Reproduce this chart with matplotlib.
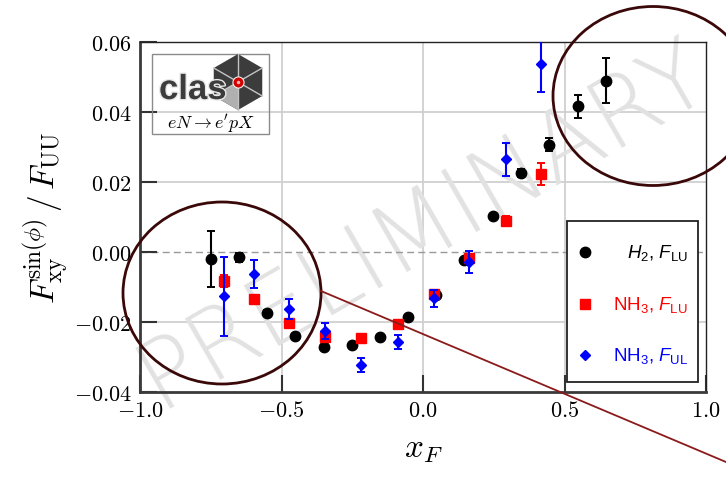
import numpy as np
import matplotlib
matplotlib.use("Agg")
import matplotlib.pyplot as plt
import matplotlib.patheffects as pe
from matplotlib.patches import Ellipse, Rectangle, Polygon
from matplotlib.lines import Line2D
from matplotlib.ticker import FuncFormatter

plt.rcParams['mathtext.fontset'] = 'cm'
plt.rcParams['mathtext.rm'] = 'Liberation Sans'
plt.rcParams['mathtext.it'] = 'Liberation Sans:italic'
plt.rcParams['mathtext.bf'] = 'Liberation Sans:bold'

# H2, F_LU
h2_x = [-0.750, -0.651, -0.552, -0.451, -0.351, -0.251, -0.151, -0.052,
        0.047, 0.145, 0.247, 0.347, 0.446, 0.548, 0.647]
h2_y = [-0.0020, -0.0015, -0.0173, -0.0240, -0.0271, -0.0266, -0.0243, -0.0186,
        -0.0122, -0.0022, 0.0103, 0.0225, 0.0307, 0.0416, 0.0490]
h2_err = [0.0079, 0.0013, 0.0006, 0.0006, 0.0006, 0.0006, 0.0006, 0.0006,
          0.0008, 0.0006, 0.0006, 0.0012, 0.0019, 0.0032, 0.0064]

# NH3, F_LU
nh3_x = [-0.703, -0.598, -0.472, -0.345, -0.218, -0.089, 0.038, 0.164, 0.293, 0.417]
nh3_lu_y = [-0.0083, -0.0133, -0.0204, -0.0242, -0.0245, -0.0207, -0.0119, -0.0017,
            0.0089, 0.0222]
nh3_lu_err = [0.0017, 0.0006, 0.0006, 0.0006, 0.0006, 0.0006, 0.0008, 0.0010,
              0.0013, 0.0031]

# NH3, F_UL
nh3_ul_y = [-0.0127, -0.0063, -0.0162, -0.0226, -0.0324, -0.0258, -0.0132, -0.0028,
            0.0265, 0.0538]
nh3_ul_err = [0.0114, 0.0041, 0.0028, 0.0022, 0.0020, 0.0020, 0.0024, 0.0032,
              0.0047, 0.0082]

legend_labels = [r'$H_2$, $F_{\rm LU}$', r'NH$_3$, $F_{\rm LU}$', r'NH$_3$, $F_{\rm UL}$']

W, H = 726, 485
fig = plt.figure(figsize=(W / 100, H / 100), dpi=100)
ax = fig.add_axes([140 / W, 92 / H, 566 / W, 350 / H])

ax.set_xlim(-1.0, 1.0)
ax.set_ylim(-0.04, 0.06)
ax.set_xticks([-1.0, -0.5, 0.0, 0.5, 1.0])
ax.set_yticks([-0.04, -0.02, 0.0, 0.02, 0.04, 0.06])
ax.xaxis.set_major_formatter(FuncFormatter(lambda v, p: f"${v:.1f}$"))
ax.yaxis.set_major_formatter(FuncFormatter(lambda v, p: f"${v:.2f}$"))
ax.tick_params(direction='in', length=12, width=1.5, color='#333333',
               labelsize=16, pad=6)

for v in [-0.5, 0.0, 0.5]:
    ax.axvline(v, color='#d0d0d0', lw=1.3, zorder=0)
for v in [-0.02, 0.02, 0.04]:
    ax.axhline(v, color='#d0d0d0', lw=1.3, zorder=0)
ax.axhline(0.0, color='#999999', lw=1.0, ls=(0, (5, 3)), zorder=0.5)

for s in ['left', 'bottom']:
    ax.spines[s].set_linewidth(2.0)
    ax.spines[s].set_color('#3a3a3a')
for s in ['top', 'right']:
    ax.spines[s].set_linewidth(1.0)
    ax.spines[s].set_color('#222222')

ekw = dict(ls='none', capsize=3, capthick=1.4, elinewidth=1.5)
ax.errorbar(h2_x, h2_y, yerr=h2_err, fmt='o', color='black', ms=7.5, zorder=3, **ekw)
ax.errorbar(nh3_x, nh3_lu_y, yerr=nh3_lu_err, fmt='s', color='red', ms=6.5, zorder=4, **ekw)
ax.errorbar(nh3_x, nh3_ul_y, yerr=nh3_ul_err, fmt='D', color='blue', ms=5.5, zorder=5, **ekw)

ax.set_xlabel(r'$x_F$', fontsize=24, labelpad=8)
ax.set_ylabel(r'$F_{\rm xy}^{\sin(\phi)}\,/\,F_{\rm UU}$', fontsize=24, labelpad=2)

# watermark
ax.text(0.50, 0.48, 'PRELIMINARY', transform=ax.transAxes, rotation=30,
        fontsize=70, color='#e2e2e2', ha='center', va='center',
        family='DejaVu Sans', fontweight='light', zorder=0.2)


def axfrac(px, py):
    # image pixel -> axes fraction
    return ((px - 140) / 566, (393 - py) / 350)


# legend box drawn by hand (labels right aligned)
lx0, ly0 = axfrac(567, 383)
lx1, ly1 = axfrac(698, 222)
ax.add_patch(Rectangle((lx0, ly0), lx1 - lx0, ly1 - ly0, transform=ax.transAxes,
                       facecolor='white', edgecolor='#222222', lw=1.3, zorder=6))
leg_markers = [('o', 'black', 7.5), ('s', 'red', 6.5), ('D', 'blue', 5.5)]
leg_rows = [253, 305, 356]
for (m, c, ms), lab, ry in zip(leg_markers, legend_labels, leg_rows):
    mx, my = axfrac(585, ry)
    ax.add_line(Line2D([mx], [my], marker=m, color=c, ms=ms, ls='none',
                       transform=ax.transAxes, zorder=7))
    tx, ty = axfrac(688, ry)
    ax.text(tx, ty, lab, transform=ax.transAxes, ha='right', va='center',
            fontsize=13.5, color=c, family='Liberation Sans',
            math_fontfamily='custom', zorder=7)

# clas logo
bx0, by0 = axfrac(152, 135)
bx1, by1 = axfrac(269, 55)
ax.add_patch(Rectangle((bx0, by0), bx1 - bx0, by1 - by0, transform=ax.transAxes,
                       facecolor='none', edgecolor='#8a8a8a', lw=1.0, zorder=6))
hcx, hcy, R = 238, 83, 28
verts = [(hcx + R * np.cos(np.radians(90 + 60 * k)), hcy - R * np.sin(np.radians(90 + 60 * k)))
         for k in range(6)]
vf = [axfrac(*v) for v in verts]
cf = axfrac(hcx, hcy)
ax.add_patch(Polygon(vf, closed=True, transform=ax.transAxes, facecolor='#3c3c3c',
                     edgecolor='none', zorder=6))
ax.add_patch(Polygon([cf, vf[2], vf[3]], closed=True, transform=ax.transAxes,
                     facecolor='#b0b0b0', edgecolor='none', zorder=6.1))
for v in vf:
    ax.add_line(Line2D([cf[0], v[0]], [cf[1], v[1]], color='#c4c4c4', lw=1.0,
                       transform=ax.transAxes, zorder=6.2))
tx, ty = axfrac(159, 100)
ax.text(tx, ty, 'clas', transform=ax.transAxes, ha='left', va='baseline',
        fontsize=25, fontweight='bold', family='Liberation Sans', color='#3c3c3c',
        zorder=6.3, path_effects=[pe.withStroke(linewidth=2, foreground='#e8e8e8')])
rx, ry = axfrac(hcx, hcy)
ax.add_line(Line2D([rx], [ry], marker='o', ms=8, color='#d40000', mec='#f0f0f0',
                   mew=0.8, transform=ax.transAxes, zorder=6.5))
ax.add_line(Line2D([rx], [ry], marker='o', ms=2.5, color='#ffb0b0', mec='none',
                   transform=ax.transAxes, zorder=6.6))
tx, ty = axfrac(211, 124)
ax.text(tx, ty, r"$eN \rightarrow e'pX$", transform=ax.transAxes, ha='center',
        va='center', fontsize=13, zorder=6.3)


# annotation circles and line over the whole figure
def ff(px, py):
    return (px / W, 1 - py / H)


for (cx, cy, w, h) in [(222, 294, 198, 182), (653, 97, 200, 179)]:
    fig.add_artist(Ellipse(ff(cx, cy), w / W, h / H, transform=fig.transFigure,
                           facecolor='none', edgecolor='#3a0808', lw=2.0, zorder=10))
p0, p1 = ff(321, 292), ff(726, 463)
fig.add_artist(Line2D([p0[0], p1[0]], [p0[1], p1[1]], color='#8b1a1a', lw=1.3,
                      transform=fig.transFigure, zorder=10))

fig.savefig('out.png', dpi=100)
